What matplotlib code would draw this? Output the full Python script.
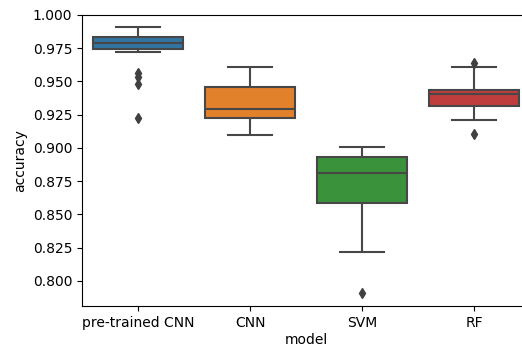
import pandas as pd
import matplotlib
matplotlib.use('Agg')
import matplotlib.pyplot as plt
import seaborn as sns

# accuracy per fold for each model
models = ['pre-trained CNN', 'CNN', 'SVM', 'RF']
pretrained_cnn = [0.9225, 0.948, 0.9537, 0.9567, 0.9725, 0.9749, 0.976, 0.977, 0.978, 0.979,
                  0.979, 0.980, 0.981, 0.982, 0.9835, 0.9843, 0.985, 0.987, 0.989, 0.9908]
cnn = [0.910, 0.915, 0.9215, 0.9255, 0.928, 0.931, 0.940, 0.948, 0.955, 0.9605]
svm = [0.791, 0.822, 0.855, 0.8695, 0.878, 0.884, 0.889, 0.895, 0.899, 0.901]
rf = [0.9105, 0.92125, 0.930, 0.9348, 0.939, 0.9414, 0.943, 0.9440, 0.9605, 0.9637]
palette = ['#1f77b4', '#ff7f0e', '#2ca02c', '#d62728']

rows = []
for name, vals in zip(models, [pretrained_cnn, cnn, svm, rf]):
    for v in vals:
        rows.append({'model': name, 'accuracy': v})
df = pd.DataFrame(rows)

fig = plt.figure(figsize=(5.22, 3.47), dpi=100)
# right spine falls just outside the picture, like in the original crop
ax = fig.add_axes([82 / 522, 1 - 306 / 347, 448 / 522, 291 / 347])

sns.boxplot(data=df, x='model', y='accuracy', hue='model', palette=palette,
            order=models, saturation=0.75, linecolor='0.28', linewidth=1.5,
            flierprops=dict(marker='d', markerfacecolor='0.25', markeredgecolor='0.25',
                            markersize=5),
            legend=False, ax=ax)

ax.set_ylim(0.781, 1.0)
ax.set_yticks([0.800, 0.825, 0.850, 0.875, 0.900, 0.925, 0.950, 0.975, 1.000])
ax.set_yticklabels(['%.3f' % t for t in ax.get_yticks()])
ax.set_xlabel('model', labelpad=2)
ax.set_ylabel('accuracy')

plt.savefig('out.png', dpi=100)
